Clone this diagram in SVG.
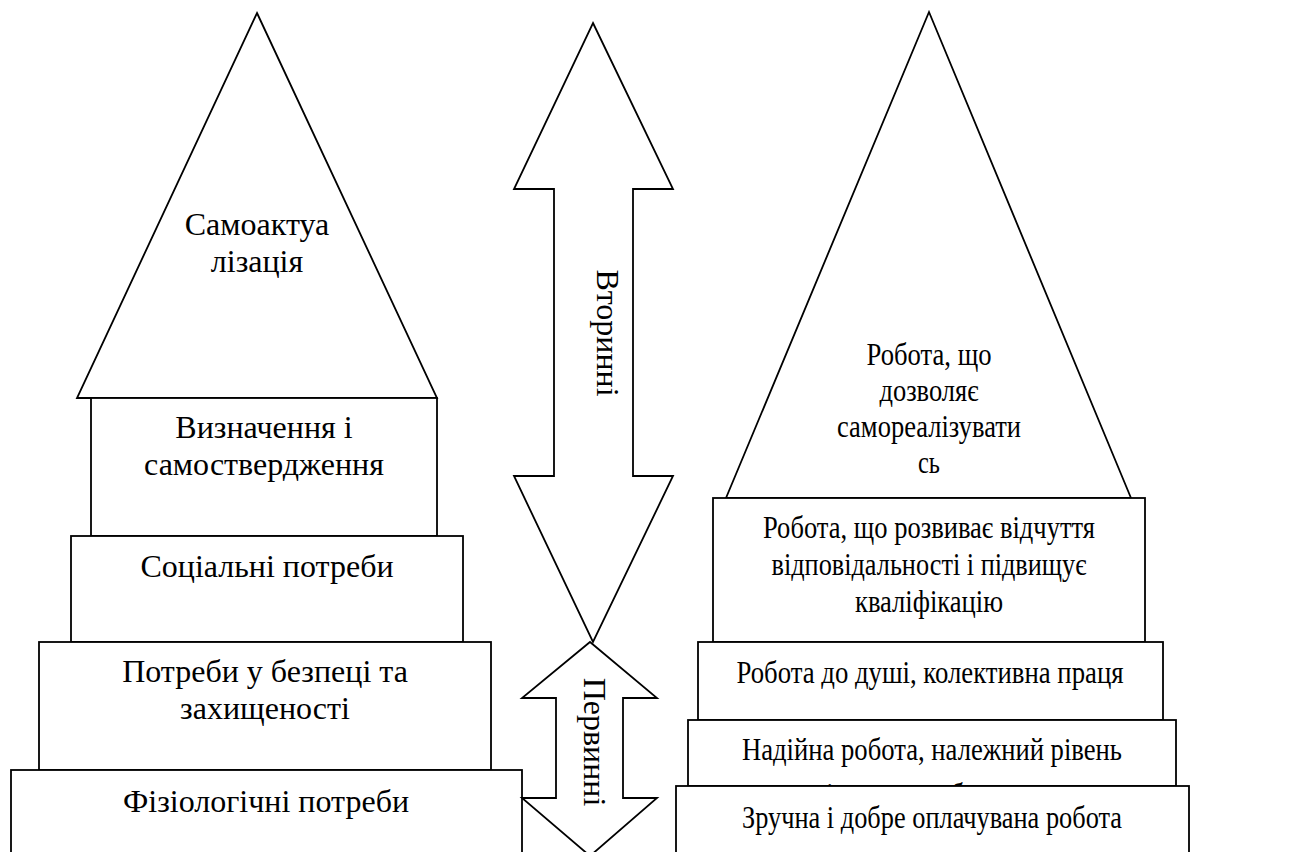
<svg xmlns="http://www.w3.org/2000/svg" width="1299" height="852" viewBox="0 0 1299 852">
<style>
.s{fill:#fff;stroke:#000;stroke-width:1.8;stroke-linejoin:miter}
.t{font-family:'Liberation Serif','Tinos','DejaVu Serif','Times New Roman',serif;font-size:32px;fill:#000;text-anchor:middle}
</style>
<defs>
<clipPath id="clipR3"><rect x="688" y="720" width="488" height="66"/></clipPath>
</defs>
<rect width="1299" height="852" fill="#fff"/>
<g id="left-top">
<polygon class="s" points="257,13 437,398 77,398"/>
<text class="t" font-family="Liberation Serif, serif" x="257" y="235">Самоактуа</text>
<text class="t" font-family="Liberation Serif, serif" x="257" y="272">лізація</text>
</g>
<g id="left-1">
<rect class="s" x="91" y="398" width="346" height="138"/>
<text class="t" font-family="Liberation Serif, serif" x="264" y="438">Визначення і</text>
<text class="t" font-family="Liberation Serif, serif" x="264" y="475">самоствердження</text>
</g>
<g id="left-2">
<rect class="s" x="71" y="536" width="392" height="106"/>
<text class="t" font-family="Liberation Serif, serif" x="267" y="577">Соціальні потреби</text>
</g>
<g id="left-3">
<rect class="s" x="39" y="642" width="452" height="128"/>
<text class="t" font-family="Liberation Serif, serif" x="265" y="682">Потреби у безпеці та</text>
<text class="t" font-family="Liberation Serif, serif" x="265" y="719">захищеності</text>
</g>
<g id="left-4">
<rect class="s" x="11" y="770" width="511" height="100"/>
<text class="t" font-family="Liberation Serif, serif" x="266" y="812">Фізіологічні потреби</text>
</g>
<g id="connectors">
<g id="arrow-secondary">
<polygon class="s" points="593,23 673,189 633,189 633,476 673,476 593,642 514,476 554,476 554,189 514,189"/>
<text class="t" font-family="Liberation Serif, serif" transform="translate(597 333) rotate(90)" x="0" y="0">Вторинні</text>
</g>
<g id="arrow-primary">
<polygon class="s" points="590,642 657,698 623,698 623,798 657,798 590,856 522,798 556,798 556,698 522,698"/>
<text class="t" font-family="Liberation Serif, serif" transform="translate(584 742) rotate(90)" x="0" y="0">Первинні</text>
</g>
</g>
<g id="right-top">
<polygon class="s" points="929,12 1131,498 726,498"/>
<text class="t" font-family="Liberation Serif, serif" x="929" y="365" textLength="125" lengthAdjust="spacingAndGlyphs">Робота, що</text>
<text class="t" font-family="Liberation Serif, serif" x="929" y="401" textLength="99" lengthAdjust="spacingAndGlyphs">дозволяє</text>
<text class="t" font-family="Liberation Serif, serif" x="929" y="437" textLength="184" lengthAdjust="spacingAndGlyphs">самореалізувати</text>
<text class="t" font-family="Liberation Serif, serif" x="929" y="473" textLength="22" lengthAdjust="spacingAndGlyphs">сь</text>
</g>
<g id="right-1">
<rect class="s" x="713" y="498" width="432" height="144"/>
<text class="t" font-family="Liberation Serif, serif" x="929" y="538" textLength="332" lengthAdjust="spacingAndGlyphs">Робота, що розвиває відчуття</text>
<text class="t" font-family="Liberation Serif, serif" x="929" y="575" textLength="315" lengthAdjust="spacingAndGlyphs">відповідальності і підвищує</text>
<text class="t" font-family="Liberation Serif, serif" x="929" y="612" textLength="148" lengthAdjust="spacingAndGlyphs">кваліфікацію</text>
</g>
<g id="right-2">
<rect class="s" x="698" y="642" width="465" height="78"/>
<text class="t" font-family="Liberation Serif, serif" x="930" y="683" textLength="387" lengthAdjust="spacingAndGlyphs">Робота до душі, колективна праця</text>
</g>
<g id="right-3">
<rect class="s" x="688" y="720" width="488" height="66"/>
<text class="t" font-family="Liberation Serif, serif" x="932" y="760" textLength="380" lengthAdjust="spacingAndGlyphs">Надійна робота, належний рівень</text>
<text class="t" font-family="Liberation Serif, serif" clip-path="url(#clipR3)" x="932" y="805" textLength="290" lengthAdjust="spacingAndGlyphs">соціального забезпечення</text>
</g>
<g id="right-4">
<rect class="s" x="676" y="786" width="513" height="90"/>
<text class="t" font-family="Liberation Serif, serif" x="932" y="828" textLength="380" lengthAdjust="spacingAndGlyphs">Зручна і добре оплачувана робота</text>
</g>
</svg>
